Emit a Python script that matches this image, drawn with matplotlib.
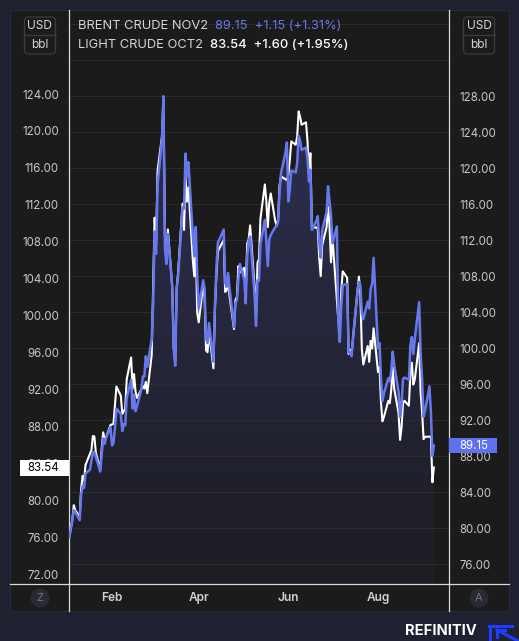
import matplotlib
matplotlib.use("Agg")
import matplotlib.pyplot as plt
import matplotlib.dates as mdates
import matplotlib.transforms as mtransforms
from matplotlib.patches import Rectangle, FancyBboxPatch, Circle
from matplotlib.lines import Line2D
import numpy as np
import pandas as pd

# ---------------- data (2022 daily settlements) ----------------
DATES = [
    "2022-01-03", "2022-01-04", "2022-01-05", "2022-01-06", "2022-01-07", "2022-01-10", "2022-01-11",
    "2022-01-12", "2022-01-13", "2022-01-14", "2022-01-17", "2022-01-18", "2022-01-19", "2022-01-20",
    "2022-01-21", "2022-01-24", "2022-01-25", "2022-01-26", "2022-01-27", "2022-01-28", "2022-01-31",
    "2022-02-01", "2022-02-02", "2022-02-03", "2022-02-04", "2022-02-07", "2022-02-08", "2022-02-09",
    "2022-02-10", "2022-02-11", "2022-02-14", "2022-02-15", "2022-02-16", "2022-02-17", "2022-02-18",
    "2022-02-21", "2022-02-22", "2022-02-23", "2022-02-24", "2022-02-25", "2022-02-28",
    "2022-03-01", "2022-03-02", "2022-03-03", "2022-03-04", "2022-03-07", "2022-03-08", "2022-03-09",
    "2022-03-10", "2022-03-11", "2022-03-14", "2022-03-15", "2022-03-16", "2022-03-17", "2022-03-18",
    "2022-03-21", "2022-03-22", "2022-03-23", "2022-03-24", "2022-03-25", "2022-03-28", "2022-03-29",
    "2022-03-30", "2022-03-31",
    "2022-04-01", "2022-04-04", "2022-04-05", "2022-04-06", "2022-04-07", "2022-04-08", "2022-04-11",
    "2022-04-12", "2022-04-13", "2022-04-14", "2022-04-18", "2022-04-19", "2022-04-20", "2022-04-21",
    "2022-04-22", "2022-04-25", "2022-04-26", "2022-04-27", "2022-04-28", "2022-04-29",
    "2022-05-02", "2022-05-03", "2022-05-04", "2022-05-05", "2022-05-06", "2022-05-09", "2022-05-10",
    "2022-05-11", "2022-05-12", "2022-05-13", "2022-05-16", "2022-05-17", "2022-05-18", "2022-05-19",
    "2022-05-20", "2022-05-23", "2022-05-24", "2022-05-25", "2022-05-26", "2022-05-27", "2022-05-30",
    "2022-05-31",
    "2022-06-01", "2022-06-02", "2022-06-03", "2022-06-06", "2022-06-07", "2022-06-08", "2022-06-09",
    "2022-06-10", "2022-06-13", "2022-06-14", "2022-06-15", "2022-06-16", "2022-06-17", "2022-06-20",
    "2022-06-21", "2022-06-22", "2022-06-23", "2022-06-24", "2022-06-27", "2022-06-28", "2022-06-29",
    "2022-06-30",
    "2022-07-01", "2022-07-04", "2022-07-05", "2022-07-06", "2022-07-07", "2022-07-08", "2022-07-11",
    "2022-07-12", "2022-07-13", "2022-07-14", "2022-07-15", "2022-07-18", "2022-07-19", "2022-07-20",
    "2022-07-21", "2022-07-22", "2022-07-25", "2022-07-26", "2022-07-27", "2022-07-28", "2022-07-29",
    "2022-08-01", "2022-08-02", "2022-08-03", "2022-08-04", "2022-08-05", "2022-08-08", "2022-08-09",
    "2022-08-10", "2022-08-11", "2022-08-12", "2022-08-15", "2022-08-16", "2022-08-17", "2022-08-18",
    "2022-08-19", "2022-08-22", "2022-08-23", "2022-08-24", "2022-08-25", "2022-08-26", "2022-08-29",
    "2022-08-30", "2022-08-31",
    "2022-09-01", "2022-09-02", "2022-09-05", "2022-09-06", "2022-09-07", "2022-09-08",
]

BRENT = [  # BRENT CRUDE (right axis)
    78.98, 80.00, 80.80, 81.99, 81.75, 80.87, 83.72,
    84.67, 84.47, 86.06, 86.48, 87.51, 88.44, 88.38,
    87.89, 86.27, 88.20, 89.96, 89.34, 90.03, 91.21,
    89.16, 89.47, 91.11, 93.27, 92.69, 90.78, 91.55,
    91.41, 94.44, 96.48, 93.28, 94.81, 92.97, 93.54,
    95.39, 96.84, 96.84, 99.08, 97.93, 100.99,
    104.97, 112.93, 110.46, 118.11, 123.21, 127.98, 111.14,
    109.33, 112.67, 106.90, 99.91, 98.02, 106.64, 107.93,
    115.62, 115.48, 121.60, 119.03, 120.65, 112.48, 110.23,
    113.45, 107.91,
    104.39, 107.53, 106.64, 101.07, 100.58, 102.78, 98.48,
    104.64, 108.78, 111.70, 113.16, 107.25, 106.80, 108.33,
    106.65, 102.32, 104.99, 105.32, 107.59, 109.34,
    107.58, 104.97, 110.14, 111.90, 112.39, 105.94, 102.46,
    107.51, 107.45, 111.55, 114.24, 111.93, 109.11, 112.04,
    112.55, 113.42, 113.56, 114.03, 117.40, 119.43, 121.67,
    122.84,
    116.29, 117.61, 119.72, 119.51, 120.57, 123.58, 123.07,
    122.01, 122.27, 121.17, 118.51, 119.81, 113.12, 114.13,
    114.65, 111.74, 110.05, 113.12, 115.09, 117.98, 116.26,
    114.81,
    111.63, 113.50, 102.77, 100.69, 104.65, 107.02, 107.10,
    99.49, 99.57, 99.10, 101.16, 106.27, 107.35, 106.92,
    103.86, 103.20, 105.15, 104.40, 106.62, 107.14, 110.01,
    100.03, 100.54, 96.78, 94.12, 94.92, 96.65, 96.31,
    97.40, 99.60, 98.15, 95.10, 92.34, 93.65, 96.59,
    96.72, 96.48, 100.22, 101.22, 99.34, 100.99, 105.09,
    99.31, 96.49,
    92.36, 93.02, 95.74, 92.83, 88.00, 89.15,
]

WTI = [  # LIGHT CRUDE (left axis); None = no settlement that day
    76.08, 76.99, 77.85, 79.46, 78.90, 78.23, 81.22,
    82.64, 82.12, 83.82, None, 85.43, 86.96, 86.90,
    85.14, 83.31, 85.60, 87.35, 86.61, 86.82, 88.15,
    88.20, 88.26, 90.27, 92.31, 91.32, 89.36, 89.66,
    89.88, 93.10, 95.46, 92.07, 93.66, 91.76, 91.07,
    None, 92.35, 92.10, 92.81, 91.59, 95.72,
    103.41, 110.60, 107.67, 115.68, 119.40, 123.70, 108.70,
    106.02, 109.33, 103.01, 96.44, 95.04, 102.98, 104.70,
    112.12, 109.27, 114.93, 112.34, 113.90, 105.96, 104.24,
    107.82, 100.28,
    99.27, 103.28, 101.96, 96.23, 96.03, 98.26, 94.29,
    100.60, 104.25, 106.95, 108.21, 102.56, 102.75, 103.79,
    102.07, 98.54, 101.70, 102.02, 105.36, 104.69,
    105.17, 102.41, 107.81, 108.26, 109.77, 103.09, 99.76,
    105.71, 106.13, 110.49, 114.20, 112.40, 109.59, 112.21,
    113.23, 110.29, 109.77, 110.33, 114.09, 115.07, None,
    114.67,
    115.26, 116.87, 118.87, 118.50, 119.41, 122.11, 121.51,
    120.67, 120.93, 118.93, 115.31, 117.59, 109.56, None,
    109.52, 106.19, 104.27, 107.62, 109.57, 111.76, 109.78,
    105.76,
    108.43, None, 99.50, 98.53, 102.73, 104.79, 104.09,
    95.84, 96.30, 95.78, 97.59, 102.60, 104.22, 102.26,
    96.35, 94.70, 96.70, 94.98, 97.26, 96.42, 98.62,
    93.89, 94.42, 90.66, 88.54, 89.01, 90.76, 90.50,
    91.93, 94.34, 92.09, 89.41, 86.53, 87.85, 90.50,
    90.77, 90.23, 93.74, 94.89, 92.52, 93.06, 97.01,
    91.64, 89.55,
    86.61, 86.87, None, 86.88, 81.94, 83.54,
]

BRENT_LABEL = "BRENT CRUDE NOV2"
BRENT_CHANGE = "+1.15 (+1.31%)"
WTI_LABEL = "LIGHT CRUDE OCT2"
WTI_CHANGE = "+1.60 (+1.95%)"
LEFT_TICKS = list(range(72, 125, 4))
RIGHT_TICKS = list(range(76, 129, 4))
RIGHT_MINOR = [132, 136]
MONTHS = [2, 4, 6, 8]
UNIT_TOP, UNIT_BOTTOM = "USD", "bbl"

# ---------------- style ----------------
OUTER = "#1e2130"
PANEL = "#1b1b1c"
GRID = "#2c2c2e"
AXLINE = "#dadada"
TICKC = "#c6c6c6"
BLUE = "#6777ec"
BLUE_BOX = "#5f70f0"

plt.rcParams["font.family"] = ["Inter", "DejaVu Sans"]

W, H = 519, 641
fig = plt.figure(figsize=(W / 100, H / 100), dpi=100, facecolor=OUTER)
ins = fig.dpi_scale_trans


def P(x, y):
    return (x / 100.0, (H - y) / 100.0)


# panel
fig.add_artist(Rectangle(P(10, 611), 499 / 100, 601 / 100, transform=ins,
                         fc=PANEL, ec="#272a36", lw=1.0, zorder=0))

ax = fig.add_axes([69 / W, (H - 584) / H, 380 / W, 574 / H])
ax2 = ax.twinx()
ax.patch.set_visible(False)
ax2.patch.set_visible(False)
ax.set_zorder(3)
ax2.set_zorder(2)

dates = pd.to_datetime(DATES)
xnum = mdates.date2num(dates)
brent = np.array([np.nan if v is None else v for v in BRENT], float)
wti = np.array([np.nan if v is None else v for v in WTI], float)
mb = ~np.isnan(brent)
mw = ~np.isnan(wti)

feb1 = mdates.date2num(pd.Timestamp("2022-02-01"))
ax.set_xlim(feb1 - 29.26, feb1 + 229.3)
ax.set_ylim(70.92, 133.10)
ax2.set_ylim(73.78, 137.56)

# gradient fill under Brent
ylo, yhi = ax2.get_ylim()
poly = ax2.fill_between(xnum[mb], brent[mb], ylo, facecolor="none", edgecolor="none")
top_c = np.array([48, 50, 90]) / 255.0
bot_c = np.array([29, 29, 35]) / 255.0
t = np.linspace(0, 1, 256)[:, None]
img = (top_c[None, :] * (1 - t) + bot_c[None, :] * t)[:, None, :]
img = np.repeat(img, 2, axis=1)
im = ax2.imshow(img, extent=[xnum[mb][0], xnum[mb][-1], ylo, yhi], aspect="auto",
                origin="upper", zorder=1, interpolation="bilinear")
im.set_clip_path(poly.get_paths()[0], transform=ax2.transData)
ax2.set_xlim(ax.get_xlim())
ax2.set_ylim(ylo, yhi)

# WTI (white) below, Brent (blue, right-axis scale) on top
ax.plot(xnum[mw], wti[mw], color="white", lw=1.5, zorder=4, solid_joinstyle="round")
ax.plot(xnum[mb], brent[mb], color=BLUE, lw=1.8, zorder=5, solid_joinstyle="round",
        transform=ax2.transData)
ax.set_xlim(feb1 - 29.26, feb1 + 229.3)
ax.set_ylim(70.92, 133.10)

# ticks
ax.xaxis.set_major_locator(mdates.MonthLocator(bymonth=MONTHS))
ax.xaxis.set_major_formatter(mdates.DateFormatter("%b"))
ax.tick_params(axis="x", length=0, pad=5.5, labelsize=8.6, labelcolor="#d0d0d0")
for lab in ax.get_xticklabels():
    lab.set_fontweight("semibold")

ax.set_yticks(LEFT_TICKS)
ax.yaxis.set_major_formatter(matplotlib.ticker.StrMethodFormatter("{x:.2f}"))
ax.tick_params(axis="y", length=0, pad=7.2, labelsize=8.3, labelcolor=TICKC)

ax2.set_yticks(RIGHT_TICKS)
ax2.set_yticks(RIGHT_MINOR, minor=True)
ax2.yaxis.set_major_formatter(matplotlib.ticker.StrMethodFormatter("{x:.2f}"))
ax2.tick_params(axis="y", which="both", length=0, pad=7.2, labelsize=8.3, labelcolor=TICKC)
ax2.grid(axis="y", which="both", color=GRID, lw=0.8)
ax2.grid(axis="x", which="major", color=GRID, lw=0.8)

for a in (ax, ax2):
    for s in ("top", "bottom"):
        a.spines[s].set_visible(False)
ax.spines["right"].set_visible(False)
ax2.spines["left"].set_visible(False)
ax.spines["left"].set_color(AXLINE)
ax.spines["left"].set_linewidth(0.9)
ax2.spines["right"].set_color(AXLINE)
ax2.spines["right"].set_linewidth(0.9)

# frame lines
for seg in [((10, 584), (509, 584)), ((69, 584), (69, 611)), ((449, 584), (449, 611))]:
    (x0, y0), (x1, y1) = seg
    a0, b0 = P(x0, y0)
    a1, b1 = P(x1, y1)
    fig.add_artist(Line2D([a0, a1], [b0, b1], transform=ins, color=AXLINE, lw=0.9, zorder=5))

# last value labels
ppu_l = 574 / (ax.get_ylim()[1] - ax.get_ylim()[0])
ppu_r = 574 / (ax2.get_ylim()[1] - ax2.get_ylim()[0])
tl = mtransforms.blended_transform_factory(ins, ax.transData)
tr = mtransforms.blended_transform_factory(ins, ax2.transData)
last_w = wti[mw][-1]
last_b = brent[mb][-1]
fig.add_artist(Rectangle((20 / 100, last_w - 8 / ppu_l), 49 / 100, 16 / ppu_l, transform=tl,
                         fc="white", ec="none", zorder=10, clip_on=False))
fig.text(59 / 100, last_w, f"{last_w:.2f}", transform=tl, ha="right", va="center",
         color="black", fontsize=8.3, zorder=11)
fig.add_artist(Rectangle((449 / 100, last_b - 7.5 / ppu_r), 48 / 100, 15 / ppu_r, transform=tr,
                         fc=BLUE_BOX, ec="none", zorder=10, clip_on=False))
fig.text(459 / 100, last_b, f"{last_b:.2f}", transform=tr, ha="left", va="center",
         color="white", fontsize=8.3, zorder=11)

# legend text
fig.text(*P(78, 26), BRENT_LABEL, transform=ins, color="#d4d4d4", fontsize=9.3, va="center")
fig.text(*P(215, 26), f"{last_b:.2f}  {BRENT_CHANGE}", transform=ins, color=BLUE,
         fontsize=9.3, va="center")
fig.text(*P(78, 45), WTI_LABEL, transform=ins, color="#d4d4d4", fontsize=9.3, va="center")
fig.text(*P(210, 45), f"{last_w:.2f}  {WTI_CHANGE}", transform=ins, color="white",
         fontsize=9.3, va="center", fontweight="medium")

# unit boxes
for cx in (40, 479):
    fig.add_artist(FancyBboxPatch(P(cx - 15.5, 54), 31 / 100, 37 / 100, transform=ins,
                                  boxstyle="round,pad=0,rounding_size=0.04",
                                  fc=PANEL, ec="#3b3b40", lw=0.9, zorder=6))
    a0, b0 = P(cx - 15.5, 35)
    a1, b1 = P(cx + 15.5, 35)
    fig.add_artist(Line2D([a0, a1], [b0, b1], transform=ins, color="#3b3b40", lw=0.9, zorder=7))
    fig.text(*P(cx, 26), UNIT_TOP, transform=ins, ha="center", va="center",
             color="#d4d4d4", fontsize=8.6, zorder=8)
    fig.text(*P(cx, 45), UNIT_BOTTOM, transform=ins, ha="center", va="center",
             color="#d4d4d4", fontsize=8.6, zorder=8)

# Z / A buttons
for cx, letter in ((40, "Z"), (479, "A")):
    fig.add_artist(Circle(P(cx, 598), 9.5 / 100, transform=ins, fc="#282b35", ec="none", zorder=6))
    fig.text(*P(cx, 598), letter, transform=ins, ha="center", va="center",
             color="#70737e", fontsize=8, zorder=7)

# brand
fig.text(*P(477, 631), "REFINITIV", transform=ins, ha="right", va="center",
         color="white", fontsize=10.6, fontweight="bold")
LOGO = "#1f3dff"
for (x0, y0), (x1, y1) in [((490, 641), (490, 625.5)), ((488.5, 625.5), (512, 625.5)),
                           ((497, 630), (505, 630)), ((497, 630), (497, 637)),
                           ((497, 630), (518, 641))]:
    a0, b0 = P(x0, y0)
    a1, b1 = P(x1, y1)
    fig.add_artist(Line2D([a0, a1], [b0, b1], transform=ins, color=LOGO, lw=2.2, zorder=5))

fig.savefig("out.png", dpi=100, facecolor=OUTER)
